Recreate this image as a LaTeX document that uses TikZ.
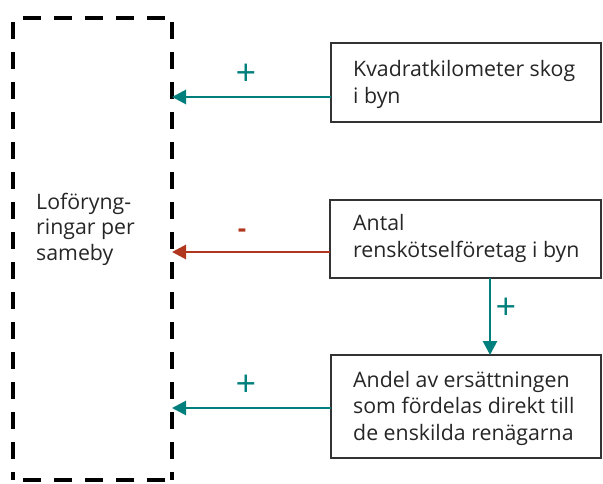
\documentclass[tikz,border=0pt]{standalone}
\usepackage{fontspec}
\setmainfont{Open Sans}
\usetikzlibrary{arrows.meta}
\definecolor{teal1}{HTML}{007F7C}
\definecolor{red1}{HTML}{B0361E}
\definecolor{boxc}{HTML}{333333}
\definecolor{txt}{HTML}{262626}
\tikzset{
  factor/.style={draw=boxc, line width=2.2pt, fill=white, inner sep=0pt},
  ftext/.style={text=txt, font=\fontsize{21.3}{26}\selectfont, inner sep=0pt, anchor=base west},
  posarrow/.style={draw=teal1, line width=2.8pt, -{Triangle[length=14pt,width=14pt]}},
  negarrow/.style={draw=red1, line width=2.8pt, -{Triangle[length=14pt,width=14pt]}},
  sgn/.style={font=\fontsize{36}{36}\selectfont, inner sep=0pt},
  dashline/.style={line width=3.6pt, dash pattern=on 17pt off 13pt, black},
}
\begin{document}
\begin{tikzpicture}[x=1pt,y=-1pt]
\useasboundingbox (0,0) rectangle (603,484);
% dashed target box
\draw[dashline] (13,22) -- (13,480);
\draw[dashline] (172,22) -- (172,480);
\draw[dashline, dash pattern=on 18pt off 13pt] (23,18) -- (165,18);
\draw[dashline, dash pattern=on 18pt off 13pt] (23,480) -- (165,480);
\coordinate (t1) at (172,97);
\coordinate (t2) at (172,252);
\coordinate (t3) at (172,408);
\node[ftext] (lab1) at (36,210) {Loföryng-};
\node[ftext] (lab2) at (36,235) {ringar per};
\node[ftext] (lab3) at (36,260) {sameby};
% factor boxes
\draw[factor] (331,43) rectangle (601,122);
\coordinate (b1) at (331,97);
\node[ftext] (n1a) at (353,77) {Kvadratkilometer skog};
\node[ftext] (n1b) at (353,103.5) {i byn};
\draw[factor] (330,200) rectangle (601,278);
\coordinate (b2) at (330,252);
\coordinate (b2s) at (490,278);
\node[ftext] (n2a) at (353,231) {Antal};
\node[ftext] (n2b) at (353,257.5) {renskötselföretag i byn};
\draw[factor] (331,355) rectangle (601,458);
\coordinate (b3) at (331,408);
\coordinate (b3n) at (490,355);
\node[ftext] (n3a) at (353,387) {Andel av ersättningen};
\node[ftext] (n3b) at (353,413.5) {som fördelas direkt till};
\node[ftext] (n3c) at (353,440) {de enskilda renägarna};
% arrows
\draw[posarrow] (b1) -- (t1);
\draw[negarrow] (b2) -- (t2);
\draw[posarrow] (b3) -- (t3);
\draw[posarrow] (b2s) -- (b3n);
\node[sgn, text=teal1] (s1) at (246,75) {+};
\node[sgn, text=red1, font=\fontsize{26}{26}\selectfont\bfseries] (s2) at (242,233) {-};
\node[sgn, text=teal1] (s3) at (246,386) {+};
\node[sgn, text=teal1] (s4) at (506,309) {+};
\end{tikzpicture}
\end{document}
